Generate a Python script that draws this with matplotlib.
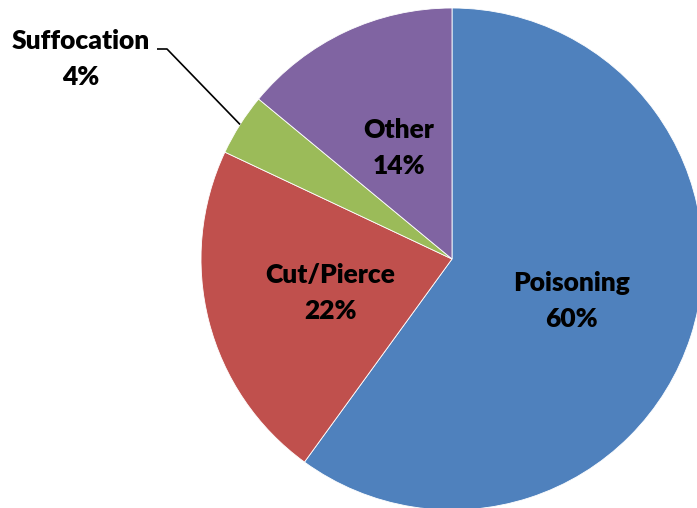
import matplotlib
matplotlib.use("Agg")
import matplotlib.pyplot as plt
import numpy as np

categories = ["Poisoning", "Cut/Pierce", "Suffocation", "Other"]
values = [60, 22, 4, 14]
colors = ["#4F81BD", "#C0504D", "#9BBB59", "#8064A2"]

W, H = 697, 508
fig = plt.figure(figsize=(W / 100, H / 100), dpi=100)
ax = fig.add_axes([0, 0, 1, 1])

cx, cy, r = 452, H - 259, 251
labels = [f"{c}\n{v}%" for c, v in zip(categories, values)]
wedges, texts = ax.pie(values, colors=colors, startangle=90, counterclock=False,
                       center=(cx, cy), radius=r, labels=labels, labeldistance=0.5,
                       wedgeprops=dict(edgecolor="white", linewidth=0.6),
                       textprops=dict(fontsize=19, fontweight="heavy", family=["Lato", "DejaVu Sans"],
                                      color="black", linespacing=1.6))
for t in texts:
    t.set_ha("center")
    t.set_va("center")
    x, y = t.get_position()
    t.set_position((x, y - 3))

# Suffocation label outside with leader line
i = categories.index("Suffocation")
w = wedges[i]
mid = np.deg2rad((w.theta1 + w.theta2) / 2)
ex, ey = cx + r * np.cos(mid), cy + r * np.sin(mid)
texts[i].set_position((81, H - 59))
ax.plot([157, 167, ex], [H - 49, H - 49, ey], color="black", lw=1.2, solid_capstyle="butt")

ax.set_xlim(0, W)
ax.set_ylim(0, H)
ax.set_aspect("equal")
ax.axis("off")
fig.savefig("out.png", dpi=100)
